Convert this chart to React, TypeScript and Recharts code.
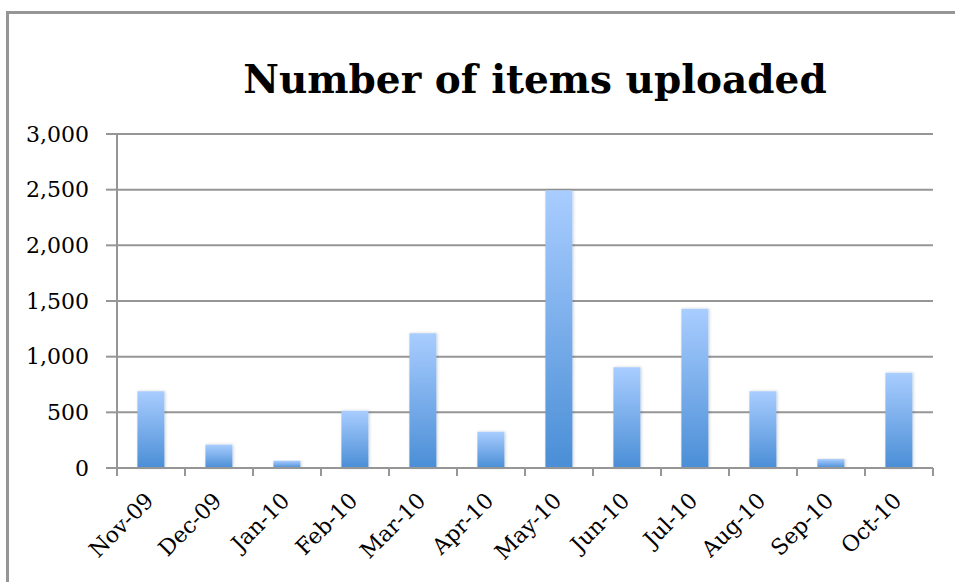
import React from "react";
import { BarChart, Bar, XAxis, YAxis, CartesianGrid } from "recharts";

const months = ["Nov-09", "Dec-09", "Jan-10", "Feb-10", "Mar-10", "Apr-10", "May-10", "Jun-10", "Jul-10", "Aug-10", "Sep-10", "Oct-10"];
const uploads = [690, 210, 65, 515, 1210, 325, 2495, 905, 1430, 690, 80, 855];
const yTicks = [0, 500, 1000, 1500, 2000, 2500, 3000];

const data = months.map((m, i) => ({ month: m, uploads: uploads[i] }));

const W = 955;
const H = 582;
const M = { top: 134, right: 22, bottom: 0, left: 0 };
const X_H = 114;
const Y_W = 117;

const fmt = (v: number) => v.toLocaleString("en-US");

const XTick = (props: any) => {
  const { x, y, payload, index } = props;
  const step = (W - M.right - Y_W) / months.length;
  const axisY = y - 8;
  const ax = x + 4;
  const ay = y + 26;
  return (
    <g>
      <line x1={x - step / 2} y1={axisY} x2={x - step / 2} y2={axisY + 8} stroke="#969696" strokeWidth={2} />
      {index === months.length - 1 && (
        <line x1={x + step / 2} y1={axisY} x2={x + step / 2} y2={axisY + 8} stroke="#969696" strokeWidth={2} />
      )}
      <text
        x={ax}
        y={ay}
        transform={`rotate(-45, ${ax}, ${ay})`}
        textAnchor="end"
        fontFamily="'DejaVu Serif', serif"
        fontSize={22}
        fill="#000"
      >
        {payload.value}
      </text>
    </g>
  );
};

export default function App() {
  return (
    <div style={{ position: "absolute", left: 0, top: 0, width: W, height: H, background: "#fff", overflow: "hidden" }}>
      <div
        style={{
          position: "absolute",
          left: 6,
          top: 11,
          width: 1200,
          height: 800,
          borderTop: "3px solid #969696",
          borderLeft: "3px solid #969696",
        }}
      />
      <div
        style={{
          position: "absolute",
          left: 0,
          width: 1070,
          top: 51,
          textAlign: "center",
          fontFamily: "'DejaVu Serif', serif",
          fontWeight: "bold",
          fontSize: 39,
          lineHeight: "56px",
          color: "#000",
        }}
      >
        Number of items uploaded
      </div>
      <div style={{ position: "absolute", left: 0, top: 0 }}>
        <BarChart width={W} height={H} data={data} margin={M} barCategoryGap="30%">
          <defs>
            <linearGradient id="barGrad" x1="0" y1="0" x2="0" y2="1">
              <stop offset="0%" stopColor="#A9CDFF" />
              <stop offset="100%" stopColor="#4A8ED6" />
            </linearGradient>
            <filter id="barShadow" x="-30%" y="-10%" width="160%" height="120%">
              <feDropShadow dx="1" dy="0" stdDeviation="1.5" floodColor="#000" floodOpacity="0.18" />
            </filter>
          </defs>
          <CartesianGrid vertical={false} stroke="#969696" strokeWidth={2} />
          <XAxis
            dataKey="month"
            interval={0}
            tickLine={false}
            axisLine={{ stroke: "#969696", strokeWidth: 2 }}
            tick={<XTick />}
            height={X_H}
          />
          <YAxis
            width={Y_W}
            domain={[0, 3000]}
            ticks={yTicks}
            tickFormatter={fmt}
            axisLine={{ stroke: "#969696", strokeWidth: 2 }}
            tickLine={{ stroke: "#969696", strokeWidth: 2 }}
            tickSize={11}
            tickMargin={17}
            tick={{ fontFamily: "'DejaVu Serif', serif", fontSize: 22, fill: "#000" }}
          />
          <Bar dataKey="uploads" fill="url(#barGrad)" filter="url(#barShadow)" isAnimationActive={false} />
        </BarChart>
      </div>
    </div>
  );
}
